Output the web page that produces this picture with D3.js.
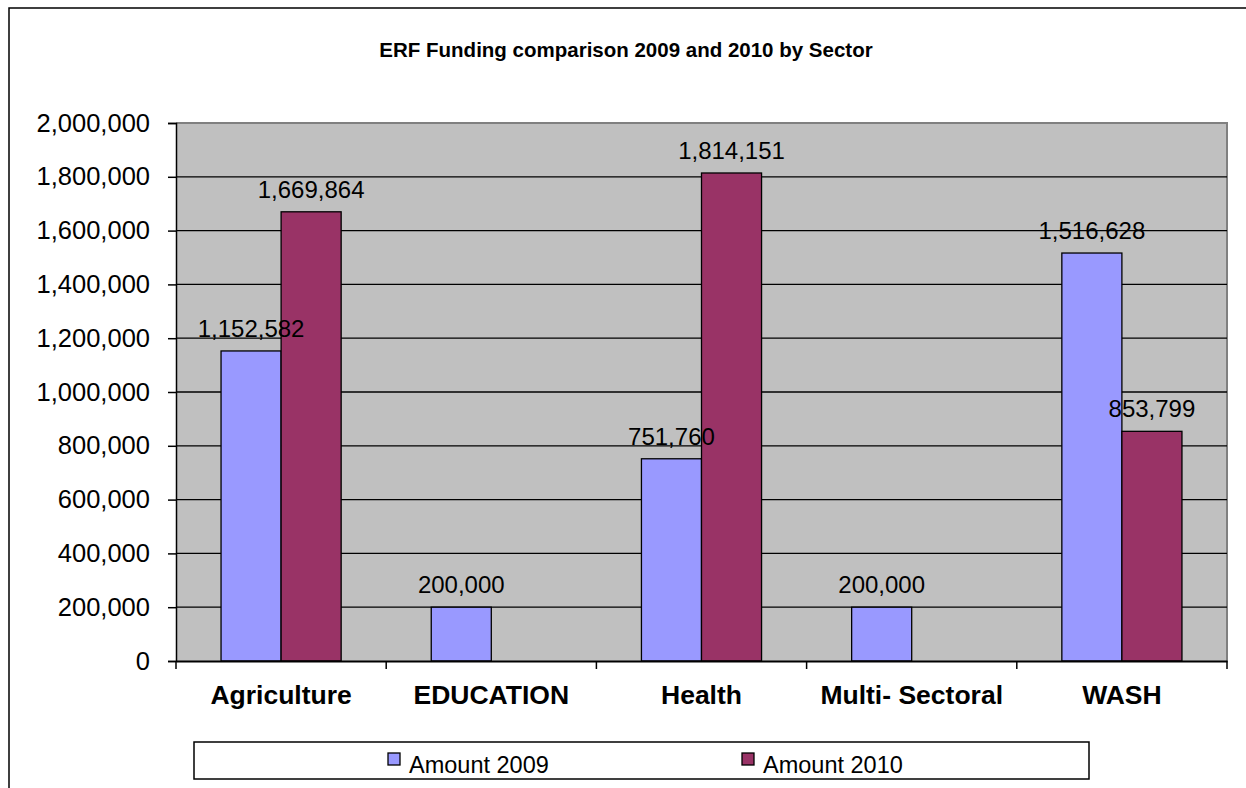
<!DOCTYPE html>
<html>
<head>
<meta charset="utf-8">
<script src="https://cdn.jsdelivr.net/npm/d3@7"></script>
<style>
  body { margin: 0; background: #fff; }
  svg { display: block; font-family: "Liberation Sans", Arial, sans-serif; }
</style>
</head>
<body>
<svg id="chart" width="1246" height="788"></svg>
<script>
const sectors = ['Agriculture', 'EDUCATION', 'Health', 'Multi- Sectoral', 'WASH']
const seriesNames = ['Amount 2009', 'Amount 2010']
const amount2009 = [1152582, 200000, 751760, 200000, 1516628]
const amount2010 = [1669864, null, 1814151, null, 853799]
const yTicks = [0, 200000, 400000, 600000, 800000, 1000000, 1200000, 1400000, 1600000, 1800000, 2000000]
const colors = ['#9999FF', '#993366']

const svg = d3.select('#chart')

// outer chart border
svg.append('rect')
    .attr('x', 9).attr('y', 8)
    .attr('width', 1260).attr('height', 800)
    .attr('fill', 'none')
    .attr('stroke', '#000')
    .attr('stroke-width', 1.5)

svg.append('text')
    .attr('x', 626).attr('y', 57)
    .attr('text-anchor', 'middle')
    .style('font-size', '20.5px')
    .style('font-weight', 'bold')
    .text('ERF Funding comparison 2009 and 2010 by Sector')

const plotLeft = 176, plotRight = 1227, plotTop = 123, plotBottom = 661

const x = d3.scaleBand().domain(sectors).range([plotLeft, plotRight]).padding(0)
const y = d3.scaleLinear().domain([0, 2000000]).range([plotBottom, plotTop])

// plot area
svg.append('rect')
    .attr('x', plotLeft).attr('y', plotTop)
    .attr('width', plotRight - plotLeft).attr('height', plotBottom - plotTop)
    .attr('fill', '#C0C0C0')
svg.append('path')
    .attr('d', `M${plotLeft},${plotTop}H${plotRight}V${plotBottom}`)
    .attr('fill', 'none')
    .attr('stroke', '#808080')
    .attr('stroke-width', 2)

// gridlines
svg.append('g')
    .selectAll('line')
    .data(yTicks.filter(d => d > 0 && d < 2000000))
    .enter()
    .append('line')
    .attr('x1', plotLeft).attr('x2', plotRight)
    .attr('y1', d => y(d)).attr('y2', d => y(d))
    .attr('stroke', '#000')
    .attr('stroke-width', 1.3)

// bars
const barW = x.bandwidth() / 3.5
const rows = []
sectors.forEach((s, i) => {
    [amount2009[i], amount2010[i]].forEach((v, k) => {
        if (v != null) rows.push({ sector: s, k: k, value: v })
    })
})

svg.append('g')
    .selectAll('rect')
    .data(rows)
    .enter()
    .append('rect')
    .attr('x', d => x(d.sector) + barW * 0.75 + d.k * barW)
    .attr('y', d => y(d.value))
    .attr('width', barW)
    .attr('height', d => plotBottom - y(d.value))
    .attr('fill', d => colors[d.k])
    .attr('stroke', '#000')
    .attr('stroke-width', 1.3)

// y axis
const yAxis = svg.append('g')
    .attr('transform', `translate(${plotLeft},0)`)
    .call(d3.axisLeft(y).tickValues(yTicks).tickFormat(d3.format(',')).tickSize(8).tickPadding(18))
yAxis.select('.domain').attr('stroke', '#000').attr('stroke-width', 1.5)
yAxis.selectAll('.tick line').attr('stroke', '#000').attr('stroke-width', 1.5)
yAxis.selectAll('text').style('font-size', '25.5px').attr('fill', '#000')
    .style('font-family', '"Liberation Sans", Arial, sans-serif')

// x axis
const xAxis = svg.append('g')
    .attr('transform', `translate(0,${plotBottom})`)
    .call(d3.axisBottom(x).tickSize(0).tickPadding(24))
xAxis.select('.domain').attr('stroke', '#000').attr('stroke-width', 2)
xAxis.selectAll('text').style('font-size', '26.5px').style('font-weight', 'bold').attr('fill', '#000')
    .style('font-family', '"Liberation Sans", Arial, sans-serif')

svg.append('g')
    .selectAll('line')
    .data(sectors.map(s => x(s)).concat([plotRight]))
    .enter()
    .append('line')
    .attr('x1', d => d).attr('x2', d => d)
    .attr('y1', plotBottom).attr('y2', plotBottom + 8)
    .attr('stroke', '#000')
    .attr('stroke-width', 1.5)

// data labels
svg.append('g')
    .selectAll('text')
    .data(rows)
    .enter()
    .append('text')
    .attr('x', d => x(d.sector) + barW * 0.75 + d.k * barW + barW / 2)
    .attr('y', d => y(d.value) - 14)
    .attr('text-anchor', 'middle')
    .style('font-size', '24px')
    .text(d => d3.format(',')(d.value))

// legend
svg.append('rect')
    .attr('x', 194).attr('y', 742)
    .attr('width', 895).attr('height', 37)
    .attr('fill', '#fff')
    .attr('stroke', '#000')
    .attr('stroke-width', 1.5)

const legendX = [388, 742]
const legend = svg.append('g')
    .selectAll('g')
    .data(seriesNames)
    .enter()
    .append('g')
    .attr('transform', (d, i) => `translate(${legendX[i]}, 753)`)

legend.append('rect')
    .attr('width', 12).attr('height', 12)
    .attr('fill', (d, i) => colors[i])
    .attr('stroke', '#000')
    .attr('stroke-width', 1.3)

legend.append('text')
    .attr('x', 21).attr('y', 20)
    .style('font-size', '23.5px')
    .text(d => d)
</script>
</body>
</html>
